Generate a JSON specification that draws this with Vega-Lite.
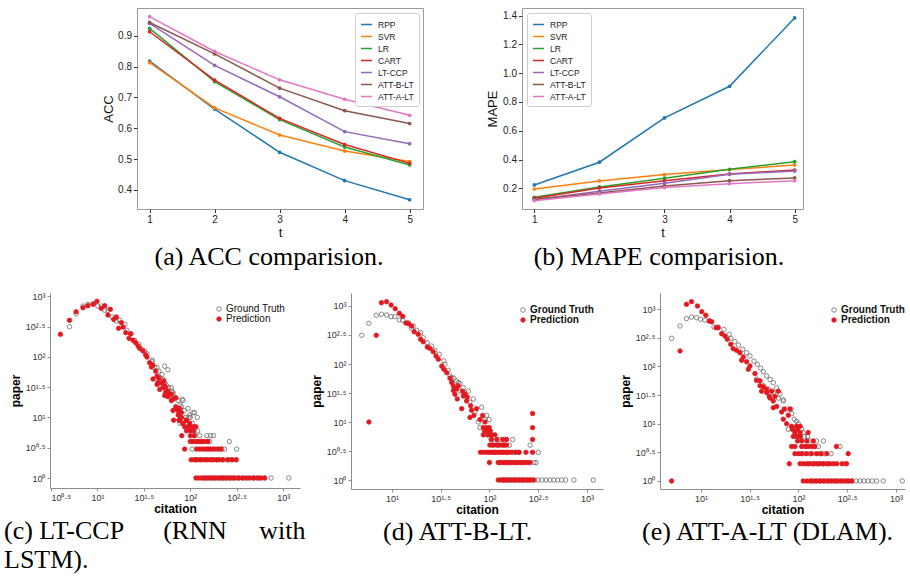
{
 "$schema": "https://vega.github.io/schema/vega-lite/v6.json",
 "background": "white",
 "padding": {"left": 4, "top": 7, "right": 5, "bottom": 3},
 "config": {"view": {"stroke": null}, "font": "Liberation Sans"},
 "bounds": "flush",
 "spacing": 285,
 "resolve": {"scale": {"color": "independent", "fill": "independent", "stroke": "independent"}, "legend": {"color": "independent", "fill": "independent", "stroke": "independent"}},
 "vconcat": [
  {"bounds": "flush", "spacing": 0, "hconcat": [
   {"width": 87, "height": 10, "data": {"values": [{}]}, "mark": {"type": "text", "text": ""}},
   {"bounds": "flush", "spacing": 99,
    "resolve": {"scale": {"color": "independent"}, "legend": {"color": "independent"}},
    "hconcat": [
    {
     "width": 286, "height": 201,
     "view": {"stroke": "#9a9a9a"},
     "title": {"text": "(a) ACC comparision.", "orient": "bottom", "anchor": "middle", "frame": "group", "dx": -11, "offset": 4, "font": "Liberation Serif", "fontSize": 26, "fontWeight": "normal", "color": "black"},
     "data": {"values": [
      {"m":"RPP","t":1,"v":0.818},{"m":"RPP","t":2,"v":0.662},{"m":"RPP","t":3,"v":0.522},{"m":"RPP","t":4,"v":0.430},{"m":"RPP","t":5,"v":0.368},
      {"m":"SVR","t":1,"v":0.813},{"m":"SVR","t":2,"v":0.666},{"m":"SVR","t":3,"v":0.578},{"m":"SVR","t":4,"v":0.526},{"m":"SVR","t":5,"v":0.492},
      {"m":"LR","t":1,"v":0.924},{"m":"LR","t":2,"v":0.751},{"m":"LR","t":3,"v":0.628},{"m":"LR","t":4,"v":0.539},{"m":"LR","t":5,"v":0.481},
      {"m":"CART","t":1,"v":0.913},{"m":"CART","t":2,"v":0.756},{"m":"CART","t":3,"v":0.632},{"m":"CART","t":4,"v":0.547},{"m":"CART","t":5,"v":0.486},
      {"m":"LT-CCP","t":1,"v":0.940},{"m":"LT-CCP","t":2,"v":0.804},{"m":"LT-CCP","t":3,"v":0.702},{"m":"LT-CCP","t":4,"v":0.589},{"m":"LT-CCP","t":5,"v":0.550},
      {"m":"ATT-B-LT","t":1,"v":0.943},{"m":"ATT-B-LT","t":2,"v":0.841},{"m":"ATT-B-LT","t":3,"v":0.730},{"m":"ATT-B-LT","t":4,"v":0.657},{"m":"ATT-B-LT","t":5,"v":0.615},
      {"m":"ATT-A-LT","t":1,"v":0.962},{"m":"ATT-A-LT","t":2,"v":0.849},{"m":"ATT-A-LT","t":3,"v":0.757},{"m":"ATT-A-LT","t":4,"v":0.694},{"m":"ATT-A-LT","t":5,"v":0.642}
     ]},
     "encoding": {
      "x": {"field": "t", "type": "quantitative", "scale": {"domain": [0.806, 5.205], "nice": false, "zero": false},
            "axis": {"title": "t", "values": [1,2,3,4,5], "format": "d", "domain": false, "grid": false, "tickSize": 3.5, "tickColor": "#333", "labelFontSize": 10, "labelColor": "#222", "labelPadding": 2, "titleFontSize": 13, "titleFontWeight": "normal", "titleColor": "#111", "titlePadding": 2}},
      "y": {"field": "v", "type": "quantitative", "scale": {"domain": [0.338, 0.99], "nice": false, "zero": false},
            "axis": {"title": "ACC", "values": [0.4,0.5,0.6,0.7,0.8,0.9], "format": ".1f", "domain": false, "grid": false, "tickSize": 3.5, "tickColor": "#333", "labelFontSize": 10, "labelColor": "#222", "labelPadding": 2, "titleFontSize": 13, "titleFontWeight": "normal", "titleColor": "#111", "titlePadding": 2}},
      "color": {"field": "m", "type": "nominal",
                "scale": {"domain": ["RPP","SVR","LR","CART","LT-CCP","ATT-B-LT","ATT-A-LT"], "range": ["#1f77b4","#ff7f0e","#2ca02c","#d62728","#9467bd","#8c564b","#e377c2"]},
                "legend": {"title": null, "orient": "top-right", "offset": 4.5, "fillColor": "white", "strokeColor": "#cccccc", "padding": 5, "cornerRadius": 2, "labelFontSize": 8.5, "labelColor": "#222", "symbolType": "stroke", "symbolSize": 120, "symbolStrokeWidth": 1.5, "rowPadding": 1, "labelOffset": 5}}
     },
     "layer": [
      {"mark": {"type": "line", "strokeWidth": 1.5}},
      {"mark": {"type": "point", "filled": true, "size": 14, "opacity": 1}}
     ]
    },
    {
     "width": 281, "height": 201,
     "view": {"stroke": "#9a9a9a"},
     "title": {"text": "(b) MAPE comparision.", "orient": "bottom", "anchor": "middle", "frame": "group", "dx": -3.5, "offset": 4, "font": "Liberation Serif", "fontSize": 26, "fontWeight": "normal", "color": "black"},
     "data": {"values": [
      {"m":"RPP","t":1,"v":0.223},{"m":"RPP","t":2,"v":0.381},{"m":"RPP","t":3,"v":0.689},{"m":"RPP","t":4,"v":0.909},{"m":"RPP","t":5,"v":1.384},
      {"m":"SVR","t":1,"v":0.195},{"m":"SVR","t":2,"v":0.251},{"m":"SVR","t":3,"v":0.295},{"m":"SVR","t":4,"v":0.330},{"m":"SVR","t":5,"v":0.362},
      {"m":"LR","t":1,"v":0.137},{"m":"LR","t":2,"v":0.209},{"m":"LR","t":3,"v":0.270},{"m":"LR","t":4,"v":0.332},{"m":"LR","t":5,"v":0.385},
      {"m":"CART","t":1,"v":0.131},{"m":"CART","t":2,"v":0.202},{"m":"CART","t":3,"v":0.253},{"m":"CART","t":4,"v":0.300},{"m":"CART","t":5,"v":0.327},
      {"m":"LT-CCP","t":1,"v":0.121},{"m":"LT-CCP","t":2,"v":0.179},{"m":"LT-CCP","t":3,"v":0.235},{"m":"LT-CCP","t":4,"v":0.297},{"m":"LT-CCP","t":5,"v":0.320},
      {"m":"ATT-B-LT","t":1,"v":0.124},{"m":"ATT-B-LT","t":2,"v":0.168},{"m":"ATT-B-LT","t":3,"v":0.216},{"m":"ATT-B-LT","t":4,"v":0.253},{"m":"ATT-B-LT","t":5,"v":0.272},
      {"m":"ATT-A-LT","t":1,"v":0.114},{"m":"ATT-A-LT","t":2,"v":0.161},{"m":"ATT-A-LT","t":3,"v":0.205},{"m":"ATT-A-LT","t":4,"v":0.232},{"m":"ATT-A-LT","t":5,"v":0.253}
     ]},
     "encoding": {
      "x": {"field": "t", "type": "quantitative", "scale": {"domain": [0.811, 5.128], "nice": false, "zero": false},
            "axis": {"title": "t", "values": [1,2,3,4,5], "format": "d", "domain": false, "grid": false, "tickSize": 3.5, "tickColor": "#333", "labelFontSize": 10, "labelColor": "#222", "labelPadding": 2, "titleFontSize": 13, "titleFontWeight": "normal", "titleColor": "#111", "titlePadding": 2}},
      "y": {"field": "v", "type": "quantitative", "scale": {"domain": [0.056, 1.453], "nice": false, "zero": false},
            "axis": {"title": "MAPE", "values": [0.2,0.4,0.6,0.8,1.0,1.2,1.4], "format": ".1f", "domain": false, "grid": false, "tickSize": 3.5, "tickColor": "#333", "labelFontSize": 10, "labelColor": "#222", "labelPadding": 2, "titleFontSize": 13, "titleFontWeight": "normal", "titleColor": "#111", "titlePadding": 3}},
      "color": {"field": "m", "type": "nominal",
                "scale": {"domain": ["RPP","SVR","LR","CART","LT-CCP","ATT-B-LT","ATT-A-LT"], "range": ["#1f77b4","#ff7f0e","#2ca02c","#d62728","#9467bd","#8c564b","#e377c2"]},
                "legend": {"title": null, "orient": "top-left", "offset": 4.5, "fillColor": "white", "strokeColor": "#cccccc", "padding": 5, "cornerRadius": 2, "labelFontSize": 8.5, "labelColor": "#222", "symbolType": "stroke", "symbolSize": 120, "symbolStrokeWidth": 1.5, "rowPadding": 1, "labelOffset": 5}}
     },
     "layer": [
      {"mark": {"type": "line", "strokeWidth": 1.5}},
      {"mark": {"type": "point", "filled": true, "size": 14, "opacity": 1}}
     ]
    }
   ]}
  ]},
  {"bounds": "flush", "spacing": 51,
   "resolve": {"scale": {"fill": "independent", "stroke": "independent"}, "legend": {"fill": "independent", "stroke": "independent"}},
   "hconcat": [
   {
    "width": 250, "height": 195,
    "title": {"text": ["(c) LT-CCP\u00a0\u00a0\u00a0\u00a0\u00a0\u00a0(RNN\u00a0\u00a0\u00a0\u00a0\u00a0with", "LSTM)."], "orient": "bottom", "anchor": "start", "frame": "group", "dx": -46, "offset": 4, "lineHeight": 29, "font": "Liberation Serif", "fontSize": 26, "fontWeight": "normal", "color": "black"},
    "data": {"values": [
     {"s":"G","x":5,"y":314},{"s":"G","x":5.9,"y":514},{"s":"G","x":7,"y":689},{"s":"G","x":7.9,"y":735},{"s":"G","x":9,"y":752},{"s":"G","x":10.1,"y":689},{"s":"G","x":11,"y":689},{"s":"G","x":12,"y":585},{"s":"G","x":13,"y":585},{"s":"G","x":14.5,"y":454},{"s":"G","x":16,"y":389},{"s":"G","x":17.4,"y":400},{"s":"G","x":19.7,"y":344},{"s":"G","x":20.8,"y":274},{"s":"G","x":23.2,"y":240},{"s":"G","x":25.2,"y":187},{"s":"G","x":28.1,"y":161},{"s":"G","x":29.8,"y":133},{"s":"G","x":32.3,"y":125},{"s":"G","x":34.2,"y":112},{"s":"G","x":38.5,"y":84},{"s":"G","x":39.1,"y":88},{"s":"G","x":41.4,"y":66},{"s":"G","x":43.6,"y":67},{"s":"G","x":46,"y":58},{"s":"G","x":49.8,"y":51},{"s":"G","x":53,"y":70},{"s":"G","x":57.5,"y":61},{"s":"G","x":46.9,"y":46},{"s":"G","x":51.4,"y":42},{"s":"G","x":55.3,"y":34},{"s":"G","x":58.6,"y":31},{"s":"G","x":62.6,"y":31},{"s":"G","x":65.2,"y":26},{"s":"G","x":70.2,"y":21},{"s":"G","x":82,"y":20},{"s":"G","x":43.2,"y":43},{"s":"G","x":53,"y":37},{"s":"G","x":62.6,"y":27},{"s":"G","x":65.2,"y":24},{"s":"G","x":73.8,"y":19},{"s":"G","x":77.5,"y":16},{"s":"G","x":80.2,"y":15},{"s":"G","x":83.4,"y":19},{"s":"G","x":86.1,"y":13},{"s":"G","x":94.4,"y":14},{"s":"G","x":96.6,"y":10},{"s":"G","x":98.6,"y":11},{"s":"G","x":107,"y":12},{"s":"G","x":111,"y":12},{"s":"G","x":119,"y":10},{"s":"G","x":77.5,"y":8},{"s":"G","x":82.6,"y":9},
     {"s":"G","x":141,"y":1},{"s":"G","x":155,"y":1},{"s":"G","x":170,"y":1},{"s":"G","x":186,"y":1},{"s":"G","x":204,"y":1},{"s":"G","x":224,"y":1},{"s":"G","x":245,"y":1},{"s":"G","x":269,"y":1},{"s":"G","x":295,"y":1},{"s":"G","x":331,"y":1},{"s":"G","x":372,"y":1},{"s":"G","x":417,"y":1},{"s":"G","x":479,"y":1},{"s":"G","x":550,"y":1},{"s":"G","x":631,"y":1},{"s":"G","x":741,"y":1},{"s":"G","x":1150,"y":1},
     {"s":"G","x":115,"y":2},{"s":"G","x":129,"y":2},{"s":"G","x":148,"y":2},{"s":"G","x":170,"y":2},{"s":"G","x":195,"y":2},{"s":"G","x":224,"y":2},{"s":"G","x":257,"y":2},{"s":"G","x":275,"y":2},{"s":"G","x":316,"y":2},
     {"s":"G","x":105,"y":3},{"s":"G","x":155,"y":3},{"s":"G","x":174,"y":3},{"s":"G","x":195,"y":3},{"s":"G","x":219,"y":3},{"s":"G","x":234,"y":3},{"s":"G","x":316,"y":3},
     {"s":"G","x":107,"y":4},{"s":"G","x":120,"y":4},{"s":"G","x":135,"y":4},{"s":"G","x":151,"y":4},{"s":"G","x":162,"y":4},{"s":"G","x":263,"y":4},
     {"s":"G","x":112,"y":5},{"s":"G","x":126,"y":5},{"s":"G","x":151,"y":5},{"s":"G","x":166,"y":5},{"s":"G","x":178,"y":5},
     {"s":"G","x":110,"y":6},{"s":"G","x":120,"y":6},{"s":"G","x":98,"y":7},{"s":"G","x":112,"y":7},{"s":"G","x":91,"y":8},{"s":"G","x":105,"y":8},{"s":"G","x":85,"y":9},{"s":"G","x":89,"y":10},{"s":"G","x":100,"y":10},
     {"s":"P","x":4,"y":235},{"s":"P","x":5,"y":400},{"s":"P","x":5.9,"y":555},{"s":"P","x":7,"y":646},{"s":"P","x":7.9,"y":697},{"s":"P","x":9,"y":735},{"s":"P","x":9.9,"y":824},{"s":"P","x":11,"y":631},{"s":"P","x":12,"y":697},{"s":"P","x":13.8,"y":608},{"s":"P","x":13,"y":490},{"s":"P","x":15,"y":416},{"s":"P","x":16,"y":454},{"s":"P","x":16.9,"y":295},{"s":"P","x":18.1,"y":366},{"s":"P","x":18.9,"y":310},{"s":"P","x":20.2,"y":250},{"s":"P","x":21.9,"y":202},{"s":"P","x":22.7,"y":240},{"s":"P","x":24.2,"y":187},{"s":"P","x":25.8,"y":171},{"s":"P","x":27.4,"y":151},{"s":"P","x":28.5,"y":138},{"s":"P","x":31,"y":125},{"s":"P","x":33.1,"y":107},{"s":"P","x":34.2,"y":99},{"s":"P","x":36.5,"y":80},{"s":"P","x":38.1,"y":68},{"s":"P","x":39.6,"y":73},{"s":"P","x":42.4,"y":58},{"s":"P","x":43.9,"y":48},{"s":"P","x":46,"y":44},{"s":"P","x":48.9,"y":37},{"s":"P","x":43.9,"y":35},{"s":"P","x":51.8,"y":40},{"s":"P","x":54.3,"y":31},{"s":"P","x":57.5,"y":27},{"s":"P","x":62.6,"y":24},{"s":"P","x":69.7,"y":21},{"s":"P","x":53,"y":23},{"s":"P","x":39.7,"y":43},{"s":"P","x":44.9,"y":37},{"s":"P","x":50.8,"y":31},{"s":"P","x":54.3,"y":26},{"s":"P","x":60,"y":24},{"s":"P","x":65.2,"y":20},{"s":"P","x":46.9,"y":29},{"s":"P","x":53,"y":33},{"s":"P","x":57.5,"y":22},{"s":"P","x":62.6,"y":19},{"s":"P","x":69.7,"y":15},{"s":"P","x":70.8,"y":14},{"s":"P","x":73.8,"y":13},{"s":"P","x":76.9,"y":14},{"s":"P","x":65.2,"y":13},{"s":"P","x":80.2,"y":12},{"s":"P","x":80,"y":10},{"s":"P","x":66.2,"y":9},{"s":"P","x":75.5,"y":9},{"s":"P","x":90.7,"y":9},{"s":"P","x":83.4,"y":8},{"s":"P","x":98.6,"y":8},
     {"s":"P","x":115,"y":1},{"s":"P","x":123,"y":1},{"s":"P","x":132,"y":1},{"s":"P","x":141,"y":1},{"s":"P","x":151,"y":1},{"s":"P","x":162,"y":1},{"s":"P","x":174,"y":1},{"s":"P","x":186,"y":1},{"s":"P","x":200,"y":1},{"s":"P","x":214,"y":1},{"s":"P","x":229,"y":1},{"s":"P","x":245,"y":1},{"s":"P","x":263,"y":1},{"s":"P","x":282,"y":1},{"s":"P","x":302,"y":1},{"s":"P","x":331,"y":1},{"s":"P","x":363,"y":1},{"s":"P","x":398,"y":1},{"s":"P","x":437,"y":1},{"s":"P","x":479,"y":1},{"s":"P","x":525,"y":1},{"s":"P","x":575,"y":1},{"s":"P","x":631,"y":1},
     {"s":"P","x":102,"y":2},{"s":"P","x":110,"y":2},{"s":"P","x":117,"y":2},{"s":"P","x":126,"y":2},{"s":"P","x":135,"y":2},{"s":"P","x":145,"y":2},{"s":"P","x":155,"y":2},{"s":"P","x":166,"y":2},{"s":"P","x":178,"y":2},{"s":"P","x":191,"y":2},{"s":"P","x":204,"y":2},{"s":"P","x":224,"y":2},{"s":"P","x":251,"y":2},{"s":"P","x":282,"y":2},{"s":"P","x":309,"y":2},
     {"s":"P","x":87,"y":3},{"s":"P","x":117,"y":3},{"s":"P","x":126,"y":3},{"s":"P","x":135,"y":3},{"s":"P","x":145,"y":3},{"s":"P","x":155,"y":3},{"s":"P","x":166,"y":3},{"s":"P","x":182,"y":3},{"s":"P","x":200,"y":3},{"s":"P","x":214,"y":3},
     {"s":"P","x":100,"y":4},{"s":"P","x":107,"y":4},{"s":"P","x":115,"y":4},{"s":"P","x":123,"y":4},{"s":"P","x":132,"y":4},{"s":"P","x":141,"y":4},{"s":"P","x":155,"y":4},
     {"s":"P","x":81,"y":5},{"s":"P","x":100,"y":5},{"s":"P","x":110,"y":5},{"s":"P","x":91,"y":6},{"s":"P","x":100,"y":6},{"s":"P","x":107,"y":6},
     {"s":"P","x":87,"y":7},{"s":"P","x":95,"y":7},{"s":"P","x":105,"y":7},{"s":"P","x":115,"y":7},{"s":"P","x":83,"y":8},{"s":"P","x":76,"y":9},{"s":"P","x":91,"y":9},{"s":"P","x":79,"y":10},{"s":"P","x":74,"y":11}
    ]},
    "mark": {"type": "point", "filled": true, "size": 20, "strokeWidth": 0.8, "opacity": 1},
    "encoding": {
     "x": {"field": "x", "type": "quantitative", "scale": {"type": "log", "domain": [3.09, 1517], "nice": false},
           "axis": {"title": "citation", "values": [3.1623, 10, 31.623, 100, 316.23, 1000], "labelExpr": "datum.value < 2 ? '10⁰' : datum.value < 5 ? '10⁰·⁵' : datum.value < 20 ? '10¹' : datum.value < 50 ? '10¹·⁵' : datum.value < 200 ? '10²' : datum.value < 500 ? '10²·⁵' : '10³'", "grid": false, "domainColor": "#8c8c8c", "tickColor": "#8c8c8c", "tickSize": 3, "labelFontSize": 9, "labelColor": "#333", "labelPadding": 2, "titleFontSize": 12, "titleFontWeight": "bold", "titleColor": "black", "titlePadding": 1}},
     "y": {"field": "y", "type": "quantitative", "scale": {"type": "log", "domain": [0.684, 1130], "nice": false},
           "axis": {"title": "paper", "values": [1, 3.1623, 10, 31.623, 100, 316.23, 1000], "labelExpr": "datum.value < 2 ? '10⁰' : datum.value < 5 ? '10⁰·⁵' : datum.value < 20 ? '10¹' : datum.value < 50 ? '10¹·⁵' : datum.value < 200 ? '10²' : datum.value < 500 ? '10²·⁵' : '10³'", "grid": false, "domainColor": "#8c8c8c", "tickColor": "#8c8c8c", "tickSize": 3, "labelFontSize": 9, "labelColor": "#333", "labelPadding": 2, "titleFontSize": 12, "titleFontWeight": "bold", "titleColor": "black", "titlePadding": 3}},
     "fill": {"field": "s", "type": "nominal", "scale": {"domain": ["G","P"], "range": ["transparent", "#e3191f"]},
              "legend": {"title": null, "orient": "none", "legendX": 164, "legendY": 11, "labelExpr": "datum.label == 'G' ? 'Ground Truth' : 'Prediction'", "labelFontSize": 10, "labelColor": "#111", "symbolSize": 20, "symbolStrokeWidth": 0.8, "labelOffset": 2, "rowPadding": 0, "padding": 0}},
     "stroke": {"field": "s", "type": "nominal", "scale": {"domain": ["G","P"], "range": ["#6b6b6b", "#e3191f"]},
              "legend": {"title": null, "orient": "none", "legendX": 164, "legendY": 11, "labelExpr": "datum.label == 'G' ? 'Ground Truth' : 'Prediction'", "labelFontSize": 10, "labelColor": "#111", "symbolSize": 20, "symbolStrokeWidth": 0.8, "labelOffset": 2, "rowPadding": 0, "padding": 0}}
    }
   },
   {"bounds": "flush", "spacing": 57,
    "resolve": {"scale": {"fill": "independent", "stroke": "independent"}, "legend": {"fill": "independent", "stroke": "independent"}},
    "hconcat": [
    {
     "width": 252, "height": 196,
     "title": {"text": "(d) ATT-B-LT.", "orient": "bottom", "anchor": "start", "frame": "group", "dx": 32, "offset": 4, "font": "Liberation Serif", "fontSize": 26, "fontWeight": "normal", "color": "black"},
     "data": {"values": [
      {"s":"G","x":4.9,"y":313},{"s":"G","x":5.8,"y":504},{"s":"G","x":6.9,"y":692},{"s":"G","x":7.8,"y":720},{"s":"G","x":8.8,"y":700},{"s":"G","x":9.8,"y":655},{"s":"G","x":10.7,"y":655},{"s":"G","x":11.9,"y":574},{"s":"G","x":12.9,"y":566},{"s":"G","x":14.7,"y":515},{"s":"G","x":16.5,"y":452},{"s":"G","x":15.9,"y":412},{"s":"G","x":17.9,"y":381},{"s":"G","x":19.7,"y":347},{"s":"G","x":20.9,"y":284},{"s":"G","x":23,"y":233},{"s":"G","x":25.5,"y":204},{"s":"G","x":27.6,"y":172},{"s":"G","x":30.5,"y":147},{"s":"G","x":34.1,"y":113},{"s":"G","x":35,"y":99},{"s":"G","x":37.8,"y":78},{"s":"G","x":39.4,"y":62},{"s":"G","x":41,"y":58},{"s":"G","x":43.2,"y":57},{"s":"G","x":46.1,"y":51},{"s":"G","x":48,"y":48},{"s":"G","x":49.8,"y":46},{"s":"G","x":53.8,"y":39},{"s":"G","x":50,"y":34},{"s":"G","x":56,"y":32},{"s":"G","x":60.7,"y":34},{"s":"G","x":63,"y":22},{"s":"G","x":68.2,"y":25},{"s":"G","x":71,"y":15},{"s":"G","x":83.2,"y":18},{"s":"G","x":93.5,"y":13},{"s":"G","x":90,"y":11},{"s":"G","x":99.5,"y":11},{"s":"G","x":77,"y":10},{"s":"G","x":80,"y":8},
      {"s":"G","x":139,"y":1},{"s":"G","x":152,"y":1},{"s":"G","x":166,"y":1},{"s":"G","x":182,"y":1},{"s":"G","x":200,"y":1},{"s":"G","x":219,"y":1},{"s":"G","x":240,"y":1},{"s":"G","x":263,"y":1},{"s":"G","x":288,"y":1},{"s":"G","x":316,"y":1},{"s":"G","x":347,"y":1},{"s":"G","x":380,"y":1},{"s":"G","x":417,"y":1},{"s":"G","x":457,"y":1},{"s":"G","x":501,"y":1},{"s":"G","x":550,"y":1},{"s":"G","x":603,"y":1},{"s":"G","x":736,"y":1},{"s":"G","x":1161,"y":1},
      {"s":"G","x":128,"y":2},{"s":"G","x":145,"y":2},{"s":"G","x":165,"y":2},{"s":"G","x":190,"y":2},{"s":"G","x":214,"y":2},{"s":"G","x":250,"y":2},{"s":"G","x":286,"y":2},{"s":"G","x":300,"y":2},
      {"s":"G","x":114,"y":3},{"s":"G","x":135,"y":3},{"s":"G","x":152,"y":3},{"s":"G","x":183,"y":3},{"s":"G","x":198,"y":3},{"s":"G","x":317,"y":3},
      {"s":"G","x":107,"y":4},{"s":"G","x":122,"y":4},{"s":"G","x":142,"y":4},{"s":"G","x":160,"y":4},{"s":"G","x":261,"y":4},
      {"s":"G","x":104,"y":5},{"s":"G","x":126,"y":5},{"s":"G","x":144,"y":5},{"s":"G","x":173,"y":5},{"s":"G","x":95,"y":6},{"s":"G","x":105,"y":6},{"s":"G","x":92,"y":7},{"s":"G","x":100,"y":7},
      {"s":"P","x":5.8,"y":10},{"s":"P","x":6.9,"y":313},{"s":"P","x":7.8,"y":1140},{"s":"P","x":8.8,"y":1186},{"s":"P","x":9.8,"y":1040},{"s":"P","x":10.8,"y":897},{"s":"P","x":11.9,"y":748},{"s":"P","x":12.9,"y":664},{"s":"P","x":13.9,"y":509},{"s":"P","x":14.8,"y":495},{"s":"P","x":15.9,"y":452},{"s":"P","x":16.9,"y":360},{"s":"P","x":18.6,"y":325},{"s":"P","x":19.7,"y":267},{"s":"P","x":20.9,"y":242},{"s":"P","x":23,"y":196},{"s":"P","x":24.5,"y":186},{"s":"P","x":26.5,"y":163},{"s":"P","x":28.3,"y":137},{"s":"P","x":29.9,"y":121},{"s":"P","x":32.4,"y":92},{"s":"P","x":34.1,"y":81},{"s":"P","x":36.4,"y":71},{"s":"P","x":39.4,"y":57},{"s":"P","x":41,"y":48},{"s":"P","x":42.6,"y":42},{"s":"P","x":44.3,"y":38},{"s":"P","x":42.6,"y":35},{"s":"P","x":47.9,"y":42},{"s":"P","x":46,"y":37},{"s":"P","x":53,"y":34},{"s":"P","x":56.1,"y":30},{"s":"P","x":44.3,"y":30},{"s":"P","x":54,"y":28},{"s":"P","x":46.8,"y":25},{"s":"P","x":59.2,"y":27},{"s":"P","x":58.3,"y":23},{"s":"P","x":64.1,"y":19},{"s":"P","x":51.9,"y":17},{"s":"P","x":73.8,"y":17},{"s":"P","x":65.6,"y":16},{"s":"P","x":69.3,"y":13},{"s":"P","x":85.1,"y":13},{"s":"P","x":63.1,"y":12},{"s":"P","x":80,"y":11},{"s":"P","x":90,"y":10},{"s":"P","x":86.5,"y":8},{"s":"P","x":93.5,"y":8},{"s":"P","x":99.5,"y":8},{"s":"P","x":277,"y":14},{"s":"P","x":277,"y":8},{"s":"P","x":277,"y":5},
      {"s":"P","x":123,"y":1},{"s":"P","x":130,"y":1},{"s":"P","x":137,"y":1},{"s":"P","x":145,"y":1},{"s":"P","x":153,"y":1},{"s":"P","x":161,"y":1},{"s":"P","x":170,"y":1},{"s":"P","x":180,"y":1},{"s":"P","x":190,"y":1},{"s":"P","x":200,"y":1},{"s":"P","x":211,"y":1},{"s":"P","x":223,"y":1},{"s":"P","x":236,"y":1},{"s":"P","x":250,"y":1},{"s":"P","x":265,"y":1},{"s":"P","x":282,"y":1},
      {"s":"P","x":100,"y":2},{"s":"P","x":123,"y":2},{"s":"P","x":130,"y":2},{"s":"P","x":137,"y":2},{"s":"P","x":145,"y":2},{"s":"P","x":153,"y":2},{"s":"P","x":161,"y":2},{"s":"P","x":170,"y":2},{"s":"P","x":180,"y":2},{"s":"P","x":190,"y":2},{"s":"P","x":200,"y":2},{"s":"P","x":211,"y":2},{"s":"P","x":223,"y":2},{"s":"P","x":240,"y":2},{"s":"P","x":261,"y":2},
      {"s":"P","x":81,"y":3},{"s":"P","x":86.5,"y":3},{"s":"P","x":93.5,"y":3},{"s":"P","x":99,"y":3},{"s":"P","x":105,"y":3},{"s":"P","x":111,"y":3},{"s":"P","x":117,"y":3},{"s":"P","x":124,"y":3},{"s":"P","x":131,"y":3},{"s":"P","x":139,"y":3},{"s":"P","x":148,"y":3},{"s":"P","x":158,"y":3},{"s":"P","x":169,"y":3},{"s":"P","x":186,"y":3},{"s":"P","x":202,"y":3},{"s":"P","x":237,"y":3},{"s":"P","x":277,"y":3},
      {"s":"P","x":101,"y":4},{"s":"P","x":109,"y":4},{"s":"P","x":117,"y":4},{"s":"P","x":125,"y":4},{"s":"P","x":133,"y":4},{"s":"P","x":141,"y":4},{"s":"P","x":150,"y":4},
      {"s":"P","x":105,"y":5},{"s":"P","x":119,"y":5},{"s":"P","x":137,"y":5},{"s":"P","x":150,"y":5},
      {"s":"P","x":86.5,"y":6},{"s":"P","x":97,"y":6},{"s":"P","x":105,"y":6},{"s":"P","x":114,"y":6},{"s":"P","x":89,"y":7},{"s":"P","x":95,"y":7},{"s":"P","x":102,"y":7}
     ]},
     "mark": {"type": "point", "filled": true, "size": 20, "strokeWidth": 0.8, "opacity": 1},
     "encoding": {
      "x": {"field": "x", "type": "quantitative", "scale": {"type": "log", "domain": [3.8, 1462], "nice": false},
            "axis": {"title": "citation", "values": [10, 31.623, 100, 316.23, 1000], "labelExpr": "datum.value < 2 ? '10⁰' : datum.value < 5 ? '10⁰·⁵' : datum.value < 20 ? '10¹' : datum.value < 50 ? '10¹·⁵' : datum.value < 200 ? '10²' : datum.value < 500 ? '10²·⁵' : '10³'", "grid": false, "domainColor": "#8c8c8c", "tickColor": "#8c8c8c", "tickSize": 3, "labelFontSize": 9, "labelColor": "#333", "labelPadding": 2, "titleFontSize": 12, "titleFontWeight": "bold", "titleColor": "black", "titlePadding": 1}},
      "y": {"field": "y", "type": "quantitative", "scale": {"type": "log", "domain": [0.7, 1675], "nice": false},
            "axis": {"title": "paper", "values": [1, 3.1623, 10, 31.623, 100, 316.23, 1000], "labelExpr": "datum.value < 2 ? '10⁰' : datum.value < 5 ? '10⁰·⁵' : datum.value < 20 ? '10¹' : datum.value < 50 ? '10¹·⁵' : datum.value < 200 ? '10²' : datum.value < 500 ? '10²·⁵' : '10³'", "grid": false, "domainColor": "#8c8c8c", "tickColor": "#8c8c8c", "tickSize": 3, "labelFontSize": 9, "labelColor": "#333", "labelPadding": 2, "titleFontSize": 12, "titleFontWeight": "bold", "titleColor": "black", "titlePadding": 3}},
      "fill": {"field": "s", "type": "nominal", "scale": {"domain": ["G","P"], "range": ["transparent", "#e3191f"]},
               "legend": {"title": null, "orient": "none", "legendX": 167, "legendY": 12, "labelExpr": "datum.label == 'G' ? 'Ground Truth' : 'Prediction'", "labelFontSize": 10, "labelFontWeight": "bold", "labelColor": "#111", "symbolSize": 20, "symbolStrokeWidth": 0.8, "labelOffset": 2, "rowPadding": 0, "padding": 0}},
      "stroke": {"field": "s", "type": "nominal", "scale": {"domain": ["G","P"], "range": ["#6b6b6b", "#e3191f"]},
               "legend": {"title": null, "orient": "none", "legendX": 167, "legendY": 12, "labelExpr": "datum.label == 'G' ? 'Ground Truth' : 'Prediction'", "labelFontSize": 10, "labelFontWeight": "bold", "labelColor": "#111", "symbolSize": 20, "symbolStrokeWidth": 0.8, "labelOffset": 2, "rowPadding": 0, "padding": 0}}
     }
    },
    {
     "width": 245, "height": 196,
     "title": {"text": "(e) ATT-A-LT (DLAM).", "orient": "bottom", "anchor": "start", "frame": "group", "dx": -18, "offset": 4, "font": "Liberation Serif", "fontSize": 26, "fontWeight": "normal", "color": "black"},
     "data": {"values": [
      {"s":"G","x":5,"y":309},{"s":"G","x":6.1,"y":507},{"s":"G","x":7.1,"y":680},{"s":"G","x":8,"y":728},{"s":"G","x":9,"y":708},{"s":"G","x":9.9,"y":664},{"s":"G","x":11,"y":638},{"s":"G","x":12.2,"y":620},{"s":"G","x":13.6,"y":487},{"s":"G","x":15,"y":487},{"s":"G","x":17.2,"y":444},{"s":"G","x":19.5,"y":363},{"s":"G","x":20.2,"y":309},{"s":"G","x":22.3,"y":270},{"s":"G","x":24.2,"y":236},{"s":"G","x":26.8,"y":199},{"s":"G","x":29.4,"y":173},{"s":"G","x":31.8,"y":152},{"s":"G","x":35,"y":124},{"s":"G","x":37.8,"y":109},{"s":"G","x":40.9,"y":93},{"s":"G","x":43.6,"y":81},{"s":"G","x":47.2,"y":68},{"s":"G","x":51.1,"y":59},{"s":"G","x":55.2,"y":52},{"s":"G","x":59.7,"y":42},{"s":"G","x":64.6,"y":33},{"s":"G","x":69.8,"y":26},{"s":"G","x":37.2,"y":60},{"s":"G","x":43.6,"y":46},{"s":"G","x":49,"y":40},{"s":"G","x":55.2,"y":35},{"s":"G","x":62.1,"y":28},{"s":"G","x":70,"y":25},{"s":"G","x":75.7,"y":18},{"s":"G","x":83.8,"y":18},{"s":"G","x":85,"y":15},{"s":"G","x":90.6,"y":12},{"s":"G","x":95.7,"y":11},{"s":"G","x":99.5,"y":10},{"s":"G","x":78.7,"y":8},{"s":"G","x":108,"y":8},
      {"s":"G","x":136,"y":1},{"s":"G","x":150,"y":1},{"s":"G","x":165,"y":1},{"s":"G","x":182,"y":1},{"s":"G","x":200,"y":1},{"s":"G","x":220,"y":1},{"s":"G","x":242,"y":1},{"s":"G","x":266,"y":1},{"s":"G","x":293,"y":1},{"s":"G","x":322,"y":1},{"s":"G","x":354,"y":1},{"s":"G","x":389,"y":1},{"s":"G","x":428,"y":1},{"s":"G","x":471,"y":1},{"s":"G","x":518,"y":1},{"s":"G","x":570,"y":1},{"s":"G","x":634,"y":1},{"s":"G","x":741,"y":1},{"s":"G","x":1161,"y":1},
      {"s":"G","x":126,"y":2},{"s":"G","x":142,"y":2},{"s":"G","x":160,"y":2},{"s":"G","x":180,"y":2},{"s":"G","x":202,"y":2},{"s":"G","x":300,"y":2},
      {"s":"G","x":112,"y":3},{"s":"G","x":131,"y":3},{"s":"G","x":164,"y":3},{"s":"G","x":184,"y":3},{"s":"G","x":216,"y":3},
      {"s":"G","x":121,"y":4},{"s":"G","x":145,"y":4},{"s":"G","x":160,"y":4},{"s":"G","x":267,"y":4},
      {"s":"G","x":131,"y":5},{"s":"G","x":153,"y":5},{"s":"G","x":180,"y":5},
      {"s":"G","x":104,"y":6},{"s":"G","x":115,"y":6},{"s":"G","x":124,"y":6},{"s":"G","x":100,"y":7},{"s":"G","x":112,"y":7},{"s":"G","x":95,"y":8},
      {"s":"P","x":5,"y":1},{"s":"P","x":6.1,"y":186},{"s":"P","x":7.1,"y":1213},{"s":"P","x":8,"y":1349},{"s":"P","x":9.2,"y":1132},{"s":"P","x":10.2,"y":902},{"s":"P","x":11.2,"y":780},{"s":"P","x":12.2,"y":620},{"s":"P","x":12.9,"y":603},{"s":"P","x":14.3,"y":474},{"s":"P","x":15,"y":474},{"s":"P","x":16.3,"y":372},{"s":"P","x":17.6,"y":340},{"s":"P","x":18.6,"y":297},{"s":"P","x":20.2,"y":243},{"s":"P","x":21.4,"y":204},{"s":"P","x":23.2,"y":191},{"s":"P","x":25.1,"y":173},{"s":"P","x":27.2,"y":146},{"s":"P","x":26.1,"y":128},{"s":"P","x":29.4,"y":121},{"s":"P","x":31.8,"y":102},{"s":"P","x":30.6,"y":89},{"s":"P","x":35.8,"y":75},{"s":"P","x":37.2,"y":57},{"s":"P","x":40.3,"y":56},{"s":"P","x":40.3,"y":46},{"s":"P","x":43.6,"y":44},{"s":"P","x":41.9,"y":37},{"s":"P","x":47.2,"y":40},{"s":"P","x":47.2,"y":35},{"s":"P","x":53.1,"y":37},{"s":"P","x":62.1,"y":37},{"s":"P","x":50.2,"y":30},{"s":"P","x":57.4,"y":30},{"s":"P","x":51.1,"y":28},{"s":"P","x":55.2,"y":25},{"s":"P","x":59.7,"y":20},{"s":"P","x":55.2,"y":19},{"s":"P","x":81.8,"y":18},{"s":"P","x":71.6,"y":18},{"s":"P","x":67.3,"y":16},{"s":"P","x":78.7,"y":14},{"s":"P","x":70,"y":12},{"s":"P","x":75.7,"y":10},{"s":"P","x":85,"y":9},{"s":"P","x":95.7,"y":9},{"s":"P","x":104,"y":9},{"s":"P","x":126,"y":7},
      {"s":"P","x":112,"y":1},{"s":"P","x":122,"y":1},{"s":"P","x":132,"y":1},{"s":"P","x":143,"y":1},{"s":"P","x":155,"y":1},{"s":"P","x":168,"y":1},{"s":"P","x":182,"y":1},{"s":"P","x":197,"y":1},{"s":"P","x":214,"y":1},{"s":"P","x":232,"y":1},{"s":"P","x":251,"y":1},{"s":"P","x":275,"y":1},{"s":"P","x":302,"y":1},{"s":"P","x":324,"y":1},{"s":"P","x":351,"y":1},
      {"s":"P","x":80.5,"y":2},{"s":"P","x":104,"y":2},{"s":"P","x":112,"y":2},{"s":"P","x":121,"y":2},{"s":"P","x":131,"y":2},{"s":"P","x":142,"y":2},{"s":"P","x":153,"y":2},{"s":"P","x":166,"y":2},{"s":"P","x":180,"y":2},{"s":"P","x":195,"y":2},{"s":"P","x":211,"y":2},{"s":"P","x":228,"y":2},{"s":"P","x":247,"y":2},{"s":"P","x":280,"y":2},{"s":"P","x":312,"y":2},
      {"s":"P","x":92,"y":3},{"s":"P","x":100,"y":3},{"s":"P","x":108,"y":3},{"s":"P","x":121,"y":3},{"s":"P","x":136,"y":3},{"s":"P","x":153,"y":3},{"s":"P","x":171,"y":3},{"s":"P","x":195,"y":3},{"s":"P","x":324,"y":3},
      {"s":"P","x":85,"y":4},{"s":"P","x":92,"y":4},{"s":"P","x":108,"y":4},{"s":"P","x":117,"y":4},{"s":"P","x":126,"y":4},{"s":"P","x":136,"y":4},{"s":"P","x":147,"y":4},{"s":"P","x":245,"y":4},
      {"s":"P","x":98,"y":5},{"s":"P","x":108,"y":5},{"s":"P","x":122,"y":5},{"s":"P","x":142,"y":5},
      {"s":"P","x":88.5,"y":6},{"s":"P","x":96,"y":6},{"s":"P","x":104,"y":6},{"s":"P","x":92,"y":7},{"s":"P","x":104,"y":7},{"s":"P","x":86.5,"y":8},{"s":"P","x":98,"y":8}
     ]},
     "mark": {"type": "point", "filled": true, "size": 20, "strokeWidth": 0.8, "opacity": 1},
     "encoding": {
      "x": {"field": "x", "type": "quantitative", "scale": {"type": "log", "domain": [3.8, 1239], "nice": false},
            "axis": {"title": "citation", "values": [10, 31.623, 100, 316.23, 1000], "labelExpr": "datum.value < 2 ? '10⁰' : datum.value < 5 ? '10⁰·⁵' : datum.value < 20 ? '10¹' : datum.value < 50 ? '10¹·⁵' : datum.value < 200 ? '10²' : datum.value < 500 ? '10²·⁵' : '10³'", "grid": false, "domainColor": "#8c8c8c", "tickColor": "#8c8c8c", "tickSize": 3, "labelFontSize": 9, "labelColor": "#333", "labelPadding": 2, "titleFontSize": 12, "titleFontWeight": "bold", "titleColor": "black", "titlePadding": 1}},
      "y": {"field": "y", "type": "quantitative", "scale": {"type": "log", "domain": [0.725, 1910], "nice": false},
            "axis": {"title": "paper", "values": [1, 3.1623, 10, 31.623, 100, 316.23, 1000], "labelExpr": "datum.value < 2 ? '10⁰' : datum.value < 5 ? '10⁰·⁵' : datum.value < 20 ? '10¹' : datum.value < 50 ? '10¹·⁵' : datum.value < 200 ? '10²' : datum.value < 500 ? '10²·⁵' : '10³'", "grid": false, "domainColor": "#8c8c8c", "tickColor": "#8c8c8c", "tickSize": 3, "labelFontSize": 9, "labelColor": "#333", "labelPadding": 2, "titleFontSize": 12, "titleFontWeight": "bold", "titleColor": "black", "titlePadding": 3}},
      "fill": {"field": "s", "type": "nominal", "scale": {"domain": ["G","P"], "range": ["transparent", "#e3191f"]},
               "legend": {"title": null, "orient": "none", "legendX": 169, "legendY": 12, "labelExpr": "datum.label == 'G' ? 'Ground Truth' : 'Prediction'", "labelFontSize": 10, "labelFontWeight": "bold", "labelColor": "#111", "symbolSize": 20, "symbolStrokeWidth": 0.8, "labelOffset": 2, "rowPadding": 0, "padding": 0}},
      "stroke": {"field": "s", "type": "nominal", "scale": {"domain": ["G","P"], "range": ["#6b6b6b", "#e3191f"]},
               "legend": {"title": null, "orient": "none", "legendX": 169, "legendY": 12, "labelExpr": "datum.label == 'G' ? 'Ground Truth' : 'Prediction'", "labelFontSize": 10, "labelFontWeight": "bold", "labelColor": "#111", "symbolSize": 20, "symbolStrokeWidth": 0.8, "labelOffset": 2, "rowPadding": 0, "padding": 0}}
     }
    }
   ]}
  ]}
 ]
}
